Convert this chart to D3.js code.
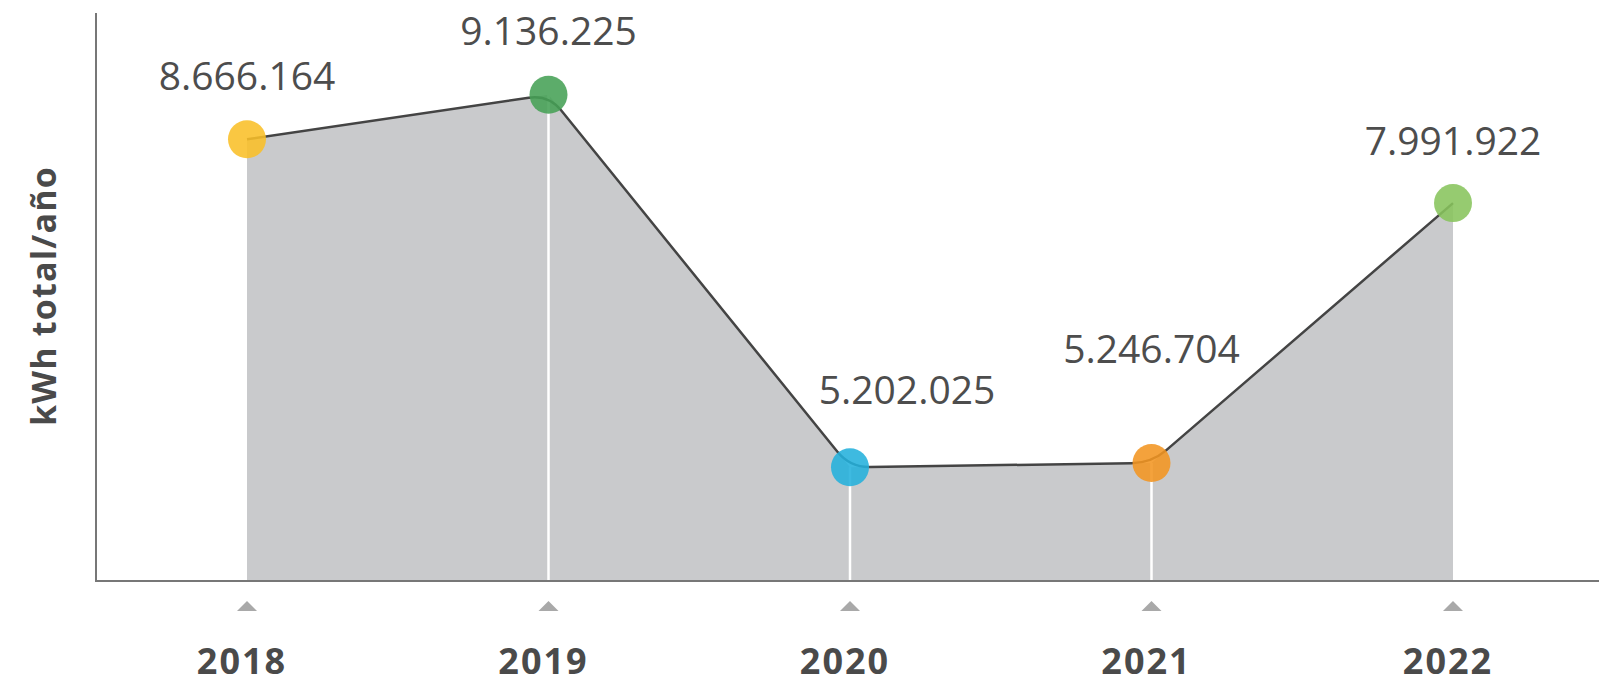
<!DOCTYPE html>
<html>
<head>
<meta charset="utf-8">
<script src="https://cdn.jsdelivr.net/npm/d3@7"></script>
<style>
  body { margin: 0; background: #fff; }
  svg { display: block; }
</style>
</head>
<body>
<svg width="1599" height="681"></svg>
<script>
var years = ["2018", "2019", "2020", "2021", "2022"],
    kwh = [8666164, 9136225, 5202025, 5246704, 7991922],
    labels = ["8.666.164", "9.136.225", "5.202.025", "5.246.704", "7.991.922"],
    dotColors = ["#f9bf28", "#46a055", "#23b1dc", "#f39521", "#88c45c"];

// label nudges (layout only)
var labelDx = [0, 0, 57, 0, 0],
    labelDy = [-49, -50, -63, -100, -48];

var svg = d3.select("svg"),
    margin = {top: 13, left: 96, bottom: 100},
    width = +svg.attr("width"),
    height = +svg.attr("height"),
    baseY = height - margin.bottom;

var x = d3.scalePoint().domain(years).range([247, 1453]),
    y = d3.scaleLinear().domain([4000000, 10000000]).range([baseY, margin.top]);

var data = years.map(function(d, i) { return {year: d, v: kwh[i], i: i}; });

// line with small rounded corners
function roundedCurve(r) {
  return function(context) {
    var pts = [];
    return {
      areaStart: function() {}, areaEnd: function() {},
      lineStart: function() { pts = []; },
      point: function(px, py) { pts.push([px, py]); },
      lineEnd: function() {
        pts.forEach(function(p, i) {
          if (i === 0) { context.moveTo(p[0], p[1]); return; }
          if (i === pts.length - 1) { context.lineTo(p[0], p[1]); return; }
          var a = pts[i - 1], b = pts[i + 1];
          var d1 = Math.hypot(p[0] - a[0], p[1] - a[1]),
              d2 = Math.hypot(b[0] - p[0], b[1] - p[1]);
          var t1 = Math.min(r, d1 / 2) / d1, t2 = Math.min(r, d2 / 2) / d2;
          context.lineTo(p[0] - (p[0] - a[0]) * t1, p[1] - (p[1] - a[1]) * t1);
          context.quadraticCurveTo(p[0], p[1], p[0] + (b[0] - p[0]) * t2, p[1] + (b[1] - p[1]) * t2);
        });
      }
    };
  };
}

var area = d3.area()
    .x(function(d) { return x(d.year); })
    .y0(baseY)
    .y1(function(d) { return y(d.v); });

var line = d3.line()
    .curve(roundedCurve(20))
    .x(function(d) { return x(d.year); })
    .y(function(d) { return y(d.v); });

svg.append("path")
    .datum(data)
    .attr("d", area)
    .attr("fill", "#c9cacc");

svg.selectAll(".drop")
    .data(data.slice(1, -1))
    .enter().append("line")
    .attr("class", "drop")
    .attr("x1", function(d) { return x(d.year); })
    .attr("x2", function(d) { return x(d.year); })
    .attr("y1", function(d) { return y(d.v); })
    .attr("y2", baseY)
    .attr("stroke", "#fff")
    .attr("stroke-width", 2.5);

svg.append("path")
    .datum(data)
    .attr("d", line)
    .attr("fill", "none")
    .attr("stroke", "#444")
    .attr("stroke-width", 2.5);

svg.selectAll(".dot")
    .data(data)
    .enter().append("circle")
    .attr("class", "dot")
    .attr("cx", function(d) { return x(d.year); })
    .attr("cy", function(d) { return y(d.v); })
    .attr("r", 19)
    .attr("fill", function(d) { return dotColors[d.i]; })
    .attr("fill-opacity", 0.88);

// axes
svg.append("line")
    .attr("x1", margin.left).attr("x2", margin.left)
    .attr("y1", margin.top).attr("y2", baseY + 1)
    .attr("stroke", "#777").attr("stroke-width", 2);

svg.append("line")
    .attr("x1", margin.left - 1).attr("x2", width)
    .attr("y1", baseY).attr("y2", baseY)
    .attr("stroke", "#777").attr("stroke-width", 2);

svg.selectAll(".tri")
    .data(data)
    .enter().append("path")
    .attr("class", "tri")
    .attr("d", function(d) {
      var cx = x(d.year);
      return "M" + (cx - 10) + "," + (baseY + 30) + "L" + (cx + 10) + "," + (baseY + 30) + "L" + cx + "," + (baseY + 20) + "Z";
    })
    .attr("fill", "#a9a9a9");

svg.selectAll(".year")
    .data(data)
    .enter().append("text")
    .attr("class", "year")
    .attr("x", function(d) { return x(d.year) - 5; })
    .attr("y", baseY + 93)
    .attr("text-anchor", "middle")
    .attr("font-family", "Open Sans, sans-serif")
    .attr("font-weight", 700)
    .attr("font-size", 36)
    .attr("letter-spacing", 2)
    .attr("fill", "#4a4a4a")
    .text(function(d) { return d.year; });

svg.selectAll(".val")
    .data(data)
    .enter().append("text")
    .attr("class", "val")
    .attr("x", function(d) { return x(d.year) + labelDx[d.i]; })
    .attr("y", function(d) { return y(d.v) + labelDy[d.i]; })
    .attr("text-anchor", "middle")
    .attr("font-family", "Open Sans, sans-serif")
    .attr("font-size", 39)
    .attr("fill", "#4d4d4d")
    .text(function(d) { return labels[d.i]; });

svg.append("text")
    .attr("transform", "translate(56,296) rotate(-90)")
    .attr("text-anchor", "middle")
    .attr("font-family", "Open Sans, sans-serif")
    .attr("font-weight", 700)
    .attr("font-size", 34)
    .attr("letter-spacing", 1.2)
    .attr("fill", "#4a4a4a")
    .text("kWh total/año");
</script>
</body>
</html>
